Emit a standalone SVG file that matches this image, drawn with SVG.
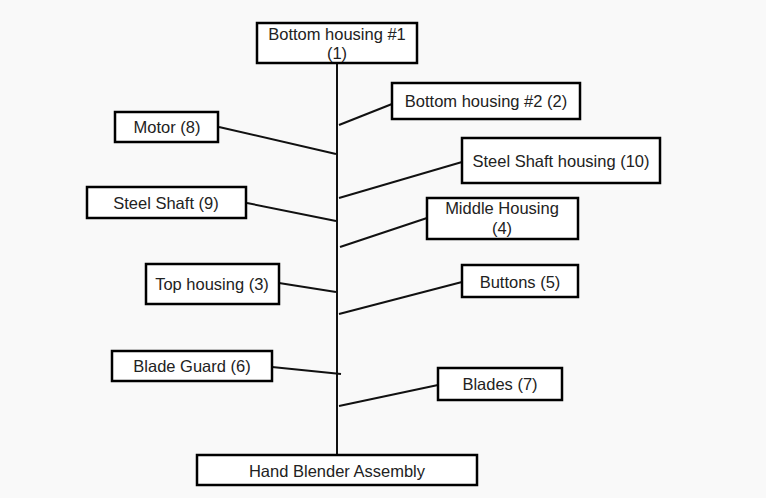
<svg xmlns="http://www.w3.org/2000/svg" width="766" height="498" viewBox="0 0 766 498">
<style>
.box{fill:#ffffff;stroke:#000;stroke-width:2.5}
.t{font-family:"Liberation Sans",Arial,sans-serif;font-size:16.5px;fill:#222;text-anchor:middle}
.c line{stroke:#111;stroke-width:2}
</style>
<rect width="766" height="498" fill="#f9f9f9"/>
<g class="c" id="connectors">
<line x1="337" y1="63" x2="337" y2="455"/>
<line x1="339" y1="125" x2="392" y2="104"/>
<line x1="219" y1="127" x2="336" y2="154"/>
<line x1="247" y1="203" x2="336" y2="221"/>
<line x1="339" y1="198" x2="462" y2="162"/>
<line x1="340" y1="247" x2="427" y2="218"/>
<line x1="279" y1="283" x2="336" y2="292"/>
<line x1="339" y1="314" x2="462" y2="282"/>
<line x1="272" y1="367" x2="341" y2="374"/>
<line x1="339" y1="406" x2="438" y2="385"/>
</g>
<g id="n1"><rect class="box" x="257" y="23" width="160" height="40"/><text class="t" x="337" y="40">Bottom housing #1</text><text class="t" x="337" y="59">(1)</text></g>
<g id="n2"><rect class="box" x="392" y="83" width="188" height="36"/><text class="t" x="486" y="107">Bottom housing #2 (2)</text></g>
<g id="n8"><rect class="box" x="115" y="112" width="103" height="30"/><text class="t" x="167" y="133">Motor (8)</text></g>
<g id="n10"><rect class="box" x="462" y="138" width="198" height="45"/><text class="t" x="561" y="167">Steel Shaft housing (10)</text></g>
<g id="n9"><rect class="box" x="87" y="187" width="159" height="31"/><text class="t" x="166" y="209">Steel Shaft (9)</text></g>
<g id="n4"><rect class="box" x="427" y="198" width="151" height="41"/><text class="t" x="502" y="214">Middle Housing</text><text class="t" x="502" y="234">(4)</text></g>
<g id="n3"><rect class="box" x="146" y="264" width="133" height="40"/><text class="t" x="212" y="290">Top housing (3)</text></g>
<g id="n5"><rect class="box" x="462" y="265" width="116" height="32"/><text class="t" x="520" y="288">Buttons (5)</text></g>
<g id="n6"><rect class="box" x="112" y="351" width="160" height="30"/><text class="t" x="192" y="372">Blade Guard (6)</text></g>
<g id="n7"><rect class="box" x="438" y="368" width="124" height="32"/><text class="t" x="500" y="390">Blades (7)</text></g>
<g id="root"><rect class="box" x="197" y="455" width="280" height="30"/><text class="t" x="337" y="477">Hand Blender Assembly</text></g>
</svg>
